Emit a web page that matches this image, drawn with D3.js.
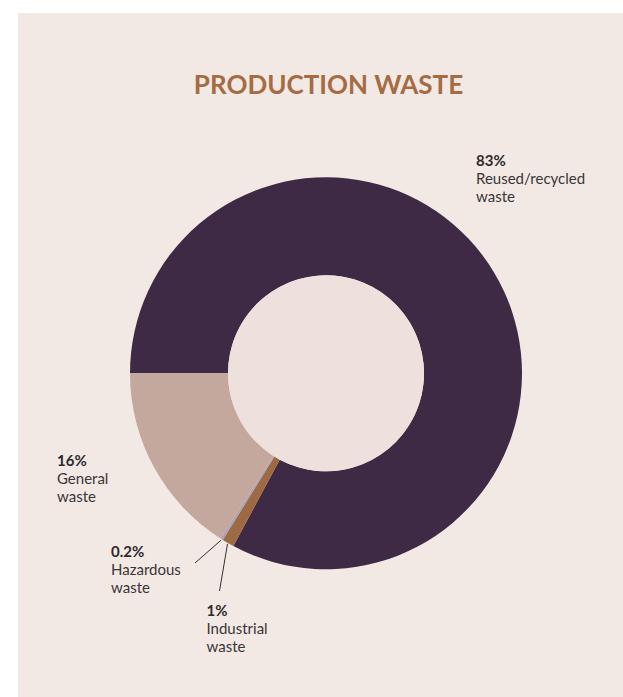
<!DOCTYPE html>
<html>
<head>
<meta charset="utf-8">
<script src="https://cdn.jsdelivr.net/npm/d3@7"></script>
<style>
  html, body { margin: 0; padding: 0; background: #ffffff; }
  svg { display: block; }
</style>
</head>
<body>
<svg id="chart" width="623" height="697"></svg>
<script>
// ---- data ----
const categories = ["Reused/recycled waste", "Industrial waste", "Hazardous waste", "General waste"];
const values = [83, 1, 0.2, 16];
const percentLabels = ["83%", "1%", "0.2%", "16%"];
const labelLines = [["Reused/recycled", "waste"], ["Industrial", "waste"], ["Hazardous", "waste"], ["General", "waste"]];
const colors = ["#3e2a45", "#9d6a44", "#aaa3b8", "#c4a89e"];
const title = "PRODUCTION WASTE";

// ---- layout ----
const W = 623, H = 697;
const cx = 326, cy = 373.3, rOuter = 196, rInner = 98;
const svg = d3.select("#chart");

svg.append("rect").attr("x", 18).attr("y", 13).attr("width", W - 18).attr("height", H - 13).attr("fill", "#f2e9e4");

svg.append("text").attr("x", 328.5).attr("y", 93.5).attr("text-anchor", "middle")
  .attr("font-family", "Lato, 'Open Sans', sans-serif").attr("font-weight", 700)
  .attr("font-size", 26).attr("fill", "#a56b43").text(title);

const pie = d3.pie().sort(null).startAngle(-Math.PI / 2).endAngle(3 * Math.PI / 2);
const arcs = pie(values);
const arc = d3.arc().innerRadius(rInner).outerRadius(rOuter);

const g = svg.append("g").attr("transform", `translate(${cx},${cy})`);
g.selectAll("path").data(arcs).join("path")
  .attr("d", arc).attr("fill", (d, i) => colors[i]);
g.append("circle").attr("r", rInner).attr("fill", "#eee1dd");

// label positions (layout)
const labelPos = [
  { x: 476, y: 166 },
  { x: 206.5, y: 616 },
  { x: 111, y: 556.5 },
  { x: 57, y: 466 }
];
// leader line ends for small slices
const leaderEnd = [null, { x: 219.5, y: 591 }, { x: 195, y: 563 }, null];

arcs.forEach((d, i) => {
  if (!leaderEnd[i]) return;
  const a = (d.startAngle + d.endAngle) / 2;
  const r = rOuter + 1;
  const x0 = cx + r * Math.sin(a), y0 = cy - r * Math.cos(a);
  svg.append("line").attr("x1", x0).attr("y1", y0)
    .attr("x2", leaderEnd[i].x).attr("y2", leaderEnd[i].y)
    .attr("stroke", "#333").attr("stroke-width", 1);
});

categories.forEach((c, i) => {
  const t = svg.append("text").attr("x", labelPos[i].x).attr("y", labelPos[i].y)
    .attr("font-family", "Lato, 'Open Sans', sans-serif").attr("font-size", 15).attr("fill", "#2e2a2b");
  t.append("tspan").attr("x", labelPos[i].x).attr("font-weight", 700).text(percentLabels[i]);
  labelLines[i].forEach((ln, k) => {
    t.append("tspan").attr("x", labelPos[i].x).attr("dy", 18.2).attr("font-weight", 400).attr("fill", "#3a3637").text(ln);
  });
});
</script>
</body>
</html>
